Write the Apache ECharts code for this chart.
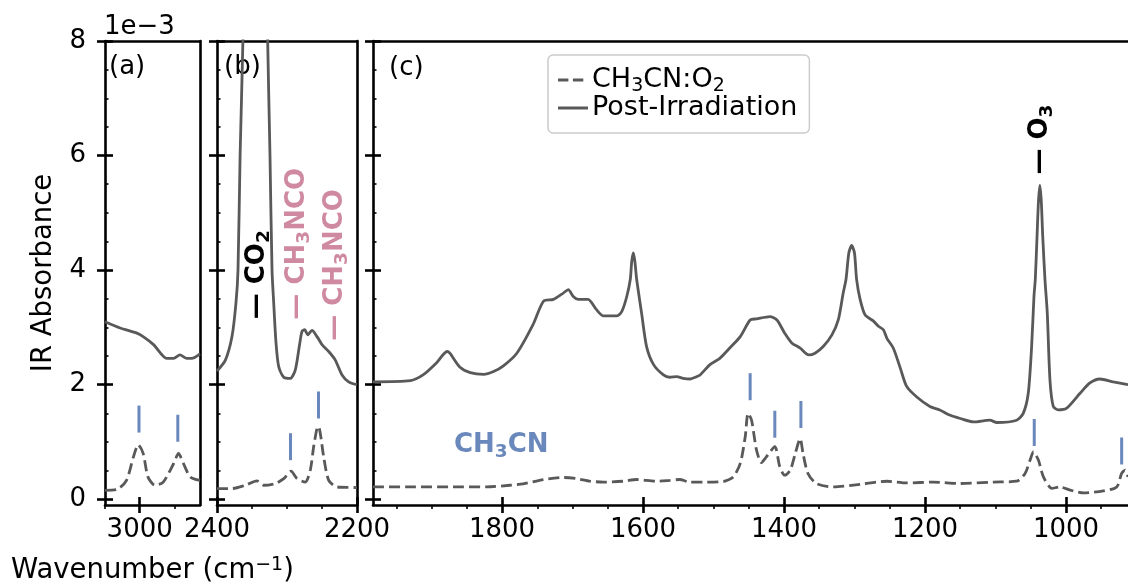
<!DOCTYPE html>
<html>
<head>
<meta charset="utf-8">
<script src="https://cdn.jsdelivr.net/npm/echarts@6/dist/echarts.min.js"></script>
<style>html,body{margin:0;padding:0;background:#fff}#c{width:1128px;height:587px}</style>
</head>
<body>
<div id="c"></div>
<script>
// ---------- DATA ----------
const seriesNames = ['CH3CN:O2', 'Post-Irradiation'];
const legendLabels = ['CH{s|3}CN:O{s|2}', 'Post-Irradiation'];

const rangeA = [2913, 3050];
const rangeB = [2200, 2400];
const rangeC = [912, 1983];
const yRange = [-0.1, 8];

const majorTicksA = [3000];
const majorTicksB = [2400, 2200];
const majorTicksC = [1800, 1600, 1400, 1200, 1000];
const minorTicksA = [3050, 2950];
const minorTicksB = [2350, 2300, 2250];
const minorTicksC = [1950, 1900, 1850, 1750, 1700, 1650, 1550, 1500, 1450, 1350, 1300, 1250, 1150, 1100, 1050, 950];
const yMajorTicks = [0, 2, 4, 6, 8];
const yMinorTicks = [0.5, 1, 1.5, 2.5, 3, 3.5, 4.5, 5, 5.5, 6.5, 7, 7.5];

const solidA = [[3050,3.10],[3028,2.99],[3004,2.90],[2995,2.84],[2980,2.70],[2961,2.46],[2951,2.46],[2942,2.52],[2932,2.46],[2925,2.46],[2913,2.54]];
const dashedA = [[3050,0.157],[3033,0.17],[3019,0.33],[3009,0.74],[3002,0.95],[2995,0.80],[2988,0.39],[2978,0.245],[2966,0.30],[2951,0.625],[2944,0.80],[2937,0.625],[2927,0.39],[2913,0.33]];

const solidB = [[2400,2.24],[2388,2.43],[2378.6,2.84],[2372.9,3.43],[2370,4.0],[2367,6.0],[2363,8.0],[2356,13],[2345,17],[2334,13],[2327.6,8.0],[2324.3,6.0],[2321.4,4.0],[2319,3.43],[2315.7,2.73],[2311.9,2.32],[2304.7,2.13],[2295.3,2.11],[2288.1,2.26],[2282.4,2.67],[2278.6,2.93],[2274.7,2.96],[2270.4,2.87],[2264.3,2.95],[2257.1,2.84],[2250,2.70],[2240.4,2.58],[2231,2.43],[2221.4,2.17],[2211.9,2.05],[2200,2.0]];
const dashedB = [[2400,0.187],[2378.6,0.187],[2359.6,0.245],[2342.9,0.32],[2333.3,0.245],[2316.7,0.275],[2304.7,0.36],[2294.3,0.49],[2285.7,0.36],[2273.9,0.30],[2266.7,0.51],[2261.9,0.92],[2257.1,1.24],[2255,1.27],[2252.4,1.15],[2247.6,0.74],[2240.4,0.33],[2228.6,0.215],[2200,0.205]];

const solidC = [[1983,2.05],[1930,2.07],[1912,2.17],[1893,2.38],[1878,2.58],[1874,2.55],[1860,2.31],[1845,2.21],[1826,2.18],[1812,2.23],[1798,2.33],[1779,2.55],[1756,3.05],[1741,3.46],[1727,3.49],[1713,3.60],[1706,3.66],[1699,3.54],[1692,3.49],[1678,3.49],[1666,3.31],[1656,3.20],[1637,3.20],[1630,3.28],[1623,3.54],[1618,3.84],[1616,4.15],[1613.7,4.30],[1611.5,4.15],[1609,3.84],[1602,3.25],[1595,2.67],[1585,2.35],[1571,2.17],[1562,2.13],[1552,2.14],[1543,2.11],[1533,2.10],[1524,2.14],[1519,2.17],[1505,2.35],[1491,2.46],[1477,2.64],[1462,2.84],[1448,3.13],[1439,3.15],[1420,3.19],[1410,3.13],[1399,2.90],[1389,2.73],[1377,2.64],[1365,2.52],[1356,2.55],[1344,2.67],[1332,2.87],[1323,3.13],[1316,3.60],[1312,3.84],[1308,4.3],[1304,4.43],[1300,4.3],[1297,3.84],[1292,3.49],[1285,3.22],[1273,3.11],[1266,3.02],[1259,2.96],[1254,2.81],[1245,2.64],[1235,2.29],[1226,1.97],[1212,1.79],[1193,1.62],[1179,1.56],[1165,1.47],[1150,1.41],[1131,1.35],[1108,1.38],[1098,1.34],[1070,1.38],[1060.6,1.50],[1053.5,1.85],[1048.7,2.67],[1045.4,3.54],[1043.5,3.84],[1041,4.6],[1039,5.2],[1037,5.48],[1035,5.2],[1033,4.6],[1029.8,3.84],[1026.5,3.25],[1022.7,2.08],[1018,1.62],[1011,1.56],[999,1.59],[980,1.85],[966,2.03],[952,2.10],[933,2.05],[912,2.0]];
const dashedC = [[1983,0.215],[1926,0.215],[1869,0.215],[1822,0.215],[1789,0.245],[1770,0.27],[1741,0.345],[1713,0.38],[1694,0.36],[1675,0.315],[1656,0.30],[1628,0.315],[1609,0.345],[1581,0.315],[1562,0.33],[1548,0.345],[1534,0.30],[1514,0.30],[1486,0.31],[1472,0.39],[1462,0.625],[1455,1.09],[1451,1.50],[1446,1.38],[1439,0.86],[1432,0.64],[1425,0.74],[1413,0.92],[1406,0.57],[1399,0.42],[1391,0.51],[1384,0.80],[1377,1.06],[1373,0.80],[1366,0.45],[1354,0.275],[1330,0.215],[1292,0.26],[1254,0.315],[1226,0.285],[1188,0.30],[1150,0.275],[1103,0.30],[1070,0.315],[1058,0.45],[1051,0.68],[1046,0.83],[1039,0.68],[1032,0.39],[1020,0.19],[1009,0.215],[994,0.16],[975,0.11],[947,0.145],[928,0.215],[921,0.45],[916,0.51],[912,0.39]];

// CH3CN band markers (blue bars)
const markersA = [[3001,1.40],[2945,1.24]];
const markersB = [[2295,0.918],[2255,1.646]];
const markersC = [[1448,1.965],[1413,1.31],[1376,1.48],[1045,1.166],[921,0.843]];

// annotations [wavenumber, absorbance, rich text]
const co2Label = [[2343, 3.92, '— CO{s|2}']];
const ch3ncoLabels = [[2285.7, 4.46, '— CH{s|3}NCO'], [2231.4, 4.09, '— CH{s|3}NCO']];
const o3Label = [[1037, 6.28, '— O{s|3}']];
const ch3cnLabel = [[1801, 0.95, 'CH{s|3}CN']];

const panelTags = ['(a)', '(b)', '(c)'];
const yAxisTitle = 'IR Absorbance';
const xAxisTitle = 'Wavenumber (cm{p|−1})';
const scaleTag = '1e−3';

// ---------- STYLE / LAYOUT ----------
const FONT = 'DejaVu Sans';
const LINE = '#595959';
const BLUE = '#6a88bb';
const PINK = '#cf8aa1';
const grids = [
  {left: 105, top: 41, width: 95, height: 464},
  {left: 217, top: 41, width: 140, height: 464},
  {left: 373, top: 41, width: 755, height: 464}
];
const panels = [
  {range: rangeA, major: majorTicksA, minor: minorTicksA, solid: solidA, dashed: dashedA, markers: markersA, rightSpine: true},
  {range: rangeB, major: majorTicksB, minor: minorTicksB, solid: solidB, dashed: dashedB, markers: markersB, rightSpine: true},
  {range: rangeC, major: majorTicksC, minor: minorTicksC, solid: solidC, dashed: dashedC, markers: markersC, rightSpine: false}
];

const xAxes = [], yAxes = [], series = [];
const mainX = [], mainY = [];
panels.forEach((p, i) => {
  const base = {gridIndex: i, type: 'value', min: p.range[0], max: p.range[1], inverse: true, splitLine: {show: false}};
  mainX.push(xAxes.length);
  xAxes.push(Object.assign({}, base, {
    position: 'bottom',
    axisLine: {show: true, onZero: false, lineStyle: {color: '#000', width: 2.6}},
    axisTick: {show: true, inside: false, length: 8, lineStyle: {color: '#000', width: 2.6}, customValues: p.major},
    axisLabel: {show: true, customValues: p.major, margin: 12, fontSize: 26, color: '#000', fontFamily: FONT,
      formatter: v => String(v)}
  }));
  xAxes.push(Object.assign({}, base, {
    position: 'bottom', axisLine: {show: false, onZero: false},
    axisTick: {show: true, inside: true, length: 8, lineStyle: {color: '#000', width: 2.6}, customValues: p.major},
    axisLabel: {show: false}
  }));
  xAxes.push(Object.assign({}, base, {
    position: 'bottom', axisLine: {show: false, onZero: false},
    axisTick: {show: true, inside: false, length: 4, lineStyle: {color: '#000', width: 1.6}, customValues: p.minor},
    axisLabel: {show: false}
  }));
  xAxes.push(Object.assign({}, base, {
    position: 'top', axisLine: {show: true, onZero: false, lineStyle: {color: '#000', width: 2.6}},
    axisTick: {show: false}, axisLabel: {show: false}
  }));

  const ybase = {gridIndex: i, type: 'value', min: yRange[0], max: yRange[1], splitLine: {show: false}};
  mainY.push(yAxes.length);
  const yMain = Object.assign({}, ybase, {
    position: 'left',
    axisLine: {show: true, onZero: false, lineStyle: {color: '#000', width: 2.6}},
    axisTick: {show: true, inside: false, length: 8, lineStyle: {color: '#000', width: 2.6}, customValues: yMajorTicks},
    axisLabel: {show: i === 0, customValues: yMajorTicks, margin: 19, fontSize: 26, color: '#000', fontFamily: FONT,
      formatter: v => String(v)}
  });
  if (i === 0) {
    Object.assign(yMain, {name: yAxisTitle, nameLocation: 'middle', nameGap: 47,
      nameTextStyle: {fontSize: 27.5, color: '#000', fontFamily: FONT}});
  }
  yAxes.push(yMain);
  yAxes.push(Object.assign({}, ybase, {
    position: 'left', axisLine: {show: false, onZero: false},
    axisTick: {show: true, inside: true, length: 8, lineStyle: {color: '#000', width: 2.6}, customValues: yMajorTicks},
    axisLabel: {show: false}
  }));
  yAxes.push(Object.assign({}, ybase, {
    position: 'left', axisLine: {show: false, onZero: false},
    axisTick: {show: true, inside: true, length: 3.5, lineStyle: {color: '#000', width: 1.6}, customValues: yMinorTicks},
    axisLabel: {show: false}
  }));
  if (p.rightSpine) {
    yAxes.push(Object.assign({}, ybase, {
      position: 'right', axisLine: {show: true, onZero: false, lineStyle: {color: '#000', width: 2.6}},
      axisTick: {show: false}, axisLabel: {show: false}
    }));
  }

  const xi = mainX[i], yi = mainY[i];
  series.push({
    type: 'line', name: seriesNames[0], xAxisIndex: xi, yAxisIndex: yi, data: p.dashed,
    symbol: 'none', smooth: 0.25, clip: true, z: 3,
    lineStyle: {color: LINE, width: 2.8, type: [11, 5]}, itemStyle: {color: LINE}
  });
  series.push({
    type: 'line', name: seriesNames[1], xAxisIndex: xi, yAxisIndex: yi, data: p.solid,
    symbol: 'none', smooth: 0.25, clip: true, z: 3,
    lineStyle: {color: LINE, width: 2.8, type: 'solid'}, itemStyle: {color: LINE}
  });
  series.push({
    type: 'scatter', xAxisIndex: xi, yAxisIndex: yi, data: p.markers, symbol: 'rect', symbolSize: [3, 27],
    itemStyle: {color: BLUE, opacity: 1}, silent: true, z: 4
  });
});

const annRich = {
  s: {fontSize: 18.5, fontWeight: 'bold', fontFamily: FONT, lineHeight: 18, verticalAlign: 'bottom'}
};
function labelSeries(panel, data, color, rotate) {
  return {
    type: 'scatter', xAxisIndex: mainX[panel], yAxisIndex: mainY[panel],
    data: data.map(d => ({value: [d[0], d[1]], text: d[2]})),
    symbolSize: 1, itemStyle: {color: 'rgba(0,0,0,0)', opacity: 1}, silent: true, z: 5,
    label: {show: true, position: 'inside', rotate: rotate, align: 'center', verticalAlign: 'middle',
      formatter: prm => prm.data.text, fontSize: 26, lineHeight: 34, fontWeight: 'bold', fontFamily: FONT,
      color: color, opacity: 1, rich: annRich}
  };
}
series.push(labelSeries(1, co2Label, '#000', 90));
series.push(labelSeries(1, ch3ncoLabels, PINK, 90));
series.push(labelSeries(2, o3Label, '#000', 90));
series.push(labelSeries(2, ch3cnLabel, BLUE, 0));

const txt = (s, x, y, extra) => ({type: 'text', x: x, y: y, silent: true,
  style: Object.assign({text: s, fontSize: 26, fontFamily: FONT, fill: '#000', align: 'left', verticalAlign: 'middle'}, extra || {})});

const dashedIcon = 'path://M0,0H10.4V3H0Z M14.9,0H25.3V3H14.9Z M30,0L30,3';
const solidIcon = 'path://M0,0H30V3H0Z';

const option = {
  animation: false,
  backgroundColor: '#fff',
  grid: grids.map(g => Object.assign({containLabel: false}, g)),
  xAxis: xAxes,
  yAxis: yAxes,
  legend: {
    data: [{name: seriesNames[0], icon: dashedIcon}, {name: seriesNames[1], icon: solidIcon}],
    formatter: name => legendLabels[seriesNames.indexOf(name)],
    orient: 'vertical', left: 548, top: 55,
    padding: [9, 12, 9, 10], itemGap: -4, itemWidth: 30, itemHeight: 3,
    itemStyle: {color: LINE, borderWidth: 0},
    backgroundColor: '#fff', borderColor: '#cccccc', borderWidth: 1.5, borderRadius: 5,
    selectedMode: false,
    textStyle: {fontSize: 27, color: '#000', fontFamily: FONT, lineHeight: 32, padding: [0, 0, 0, -1],
      rich: {s: {fontSize: 19, fontFamily: FONT, color: '#000', lineHeight: 14, verticalAlign: 'bottom'}}}
  },
  graphic: [
    txt(scaleTag, 104, 27),
    txt(panelTags[0], 109, 67),
    txt(panelTags[1], 224, 67),
    txt(panelTags[2], 389, 68),
    {type: 'text', x: 11, y: 571, silent: true, style: {text: xAxisTitle, fontSize: 27.5, fontFamily: FONT, fill: '#000',
      align: 'left', verticalAlign: 'middle', lineHeight: 30,
      rich: {p: {fontSize: 19, fontFamily: FONT, fill: '#000', lineHeight: 19, verticalAlign: 'top'}}}}
  ],
  series: series
};

const chart = echarts.init(document.getElementById('c'), null, {renderer: 'canvas', width: 1128, height: 587});
chart.setOption(option);
</script>
</body>
</html>
